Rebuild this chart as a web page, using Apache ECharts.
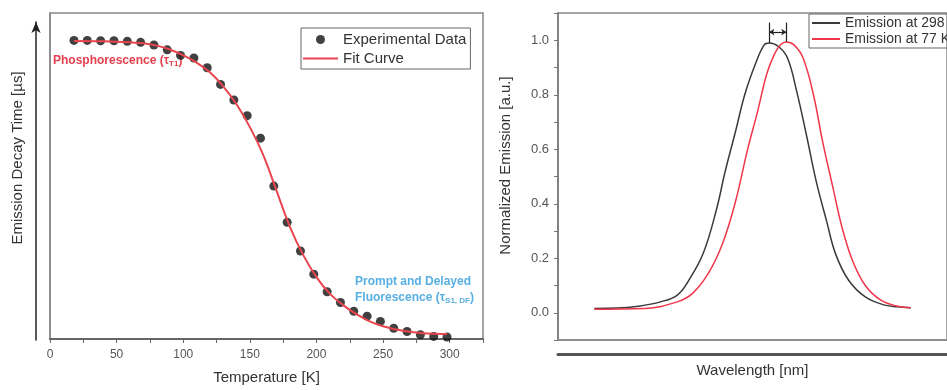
<!DOCTYPE html>
<html>
<head>
<meta charset="utf-8">
<script src="https://cdn.jsdelivr.net/npm/echarts@6/dist/echarts.min.js"></script>
<style>
html, body { margin: 0; padding: 0; background: #fff; }
#chart { width: 947px; height: 390px; }
</style>
</head>
<body>
<div id="chart"></div>
<script>
// left panel - decay time vs temperature (arbitrary y units, no scale shown)
const tempK = [18, 28, 38, 48, 58, 68, 78, 88, 98, 108, 118, 128, 138, 148, 158, 168, 178, 188, 198, 208, 218, 228, 238, 248, 258, 268, 278, 288, 298];
const decayExp = [91.6, 91.6, 91.5, 91.5, 91.3, 91.0, 90.2, 88.7, 87.0, 86.2, 83.2, 78.1, 73.3, 68.5, 61.6, 46.9, 35.8, 27.0, 19.9, 14.5, 11.2, 8.5, 7.0, 5.4, 3.3, 2.3, 1.3, 0.8, 0.6];
const fitT = [18, 40, 60, 70, 80, 90, 100, 110, 120, 130, 140, 150, 160, 170, 180, 190, 200, 210, 220, 230, 240, 250, 260, 270, 280, 290, 298];
const fitVal = [91.4, 91.3, 91.0, 90.7, 90.0, 88.8, 87.0, 84.8, 81.8, 77.5, 72.0, 65.0, 56.5, 45.5, 34.5, 25.8, 19.0, 13.9, 10.4, 7.6, 5.4, 3.9, 2.9, 2.2, 1.8, 1.6, 1.5];

// right panel - normalized emission spectra
const wl298 = [428, 445, 462, 479, 492, 501, 512, 522, 529, 537, 544, 552, 559, 563, 570, 577, 584, 592, 599, 607, 614, 624, 637, 652, 662, 672];
const em298 = [0.016, 0.017, 0.024, 0.040, 0.065, 0.12, 0.218, 0.375, 0.52, 0.667, 0.80, 0.91, 0.983, 0.99, 0.977, 0.935, 0.814, 0.643, 0.485, 0.339, 0.217, 0.12, 0.058, 0.028, 0.022, 0.018];
const wl77 = [428, 467, 492, 504, 516, 527, 537, 546, 554, 561, 567, 572, 576, 582, 589, 597, 604, 612, 619, 627, 637, 649, 662, 672];
const em77 = [0.013, 0.016, 0.040, 0.072, 0.145, 0.255, 0.41, 0.595, 0.74, 0.876, 0.95, 0.985, 0.994, 0.983, 0.935, 0.80, 0.63, 0.46, 0.314, 0.193, 0.10, 0.046, 0.024, 0.018];

const font = "'Liberation Sans', Arial, sans-serif";

function pairs(xs, ys) {
  return xs.map((x, i) => [x, ys[i]]);
}
function peak(xs, ys) {
  let k = 0;
  ys.forEach((v, i) => { if (v > ys[k]) k = i; });
  return [xs[k], ys[k]];
}

const p298 = peak(wl298, em298);
const p77 = peak(wl77, em77);

// line-only legend entries (hide the dot ECharts puts on line icons)
const noDot = { opacity: 0 };

const chart = echarts.init(document.getElementById("chart"));
chart.setOption({
  animation: false,
  textStyle: { fontFamily: font },
  grid: [
    { left: 50, right: 464, top: 13, bottom: 48, show: true, borderColor: "#888", borderWidth: 1.5 },
    { left: 36, width: 1, top: 22, bottom: 50 },
    { left: 558, right: -11, top: 13, bottom: 50, show: true, borderColor: "#888", borderWidth: 1.5 }
  ],
  xAxis: [
    {
      gridIndex: 0, type: "value", min: 0, max: 325, interval: 25,
      axisLine: { onZero: false, lineStyle: { color: "#666", width: 2 } },
      axisTick: { length: 4, lineStyle: { color: "#666" } },
      axisLabel: {
        color: "#555", fontSize: 12, margin: 10,
        formatter: v => (v % 50 === 0 && v <= 300 ? String(v) : "")
      },
      splitLine: { show: false },
      name: "Temperature [K]", nameLocation: "middle", nameGap: 31,
      nameTextStyle: { fontSize: 15, color: "#333" }
    },
    { gridIndex: 1, type: "value", show: false, min: 0, max: 1 },
    {
      gridIndex: 2, type: "value", min: 400, max: 700,
      axisLine: { onZero: false, lineStyle: { color: "#888", width: 1.5 } },
      axisTick: { show: false }, axisLabel: { show: false }, splitLine: { show: false }
    },
    {
      gridIndex: 2, type: "value", min: 400, max: 700, position: "bottom", offset: 14,
      axisLine: { onZero: false, lineStyle: { color: "#555", width: 3 } },
      axisTick: { show: false }, axisLabel: { show: false }, splitLine: { show: false },
      name: "Wavelength [nm]", nameLocation: "middle", nameGap: 9,
      nameTextStyle: { fontSize: 15, color: "#333" }
    }
  ],
  yAxis: [
    {
      gridIndex: 0, type: "value", min: 0, max: 100,
      axisLine: { show: true, lineStyle: { color: "#888", width: 1.5 } },
      axisTick: { show: false }, axisLabel: { show: false }, splitLine: { show: false }
    },
    {
      gridIndex: 1, type: "value", min: 0, max: 1,
      axisLine: { show: true, symbol: ["none", "arrow"], symbolSize: [7, 11], lineStyle: { color: "#222", width: 1.5 } },
      axisTick: { show: false }, axisLabel: { show: false }, splitLine: { show: false },
      name: "Emission Decay Time [\u00b5s]", nameLocation: "middle", nameGap: 11,
      nameTextStyle: { fontSize: 15, color: "#333", padding: [0, 0, 0, 46] }
    },
    {
      gridIndex: 2, type: "value", min: -0.1, max: 1.1, interval: 0.1,
      axisLine: { show: true, onZero: false, lineStyle: { color: "#777", width: 1.5 } },
      axisTick: { length: 4, lineStyle: { color: "#777" } },
      axisLabel: {
        color: "#555", fontSize: 13, margin: 9,
        formatter: v => {
          const k = Math.round(v * 10);
          return k >= 0 && k <= 10 && k % 2 === 0 ? (k / 10).toFixed(1) : "";
        }
      },
      splitLine: { show: false },
      name: "Normalized Emission [a.u.]", nameLocation: "middle", nameGap: 45,
      nameTextStyle: { fontSize: 15, color: "#333", padding: [0, 0, 0, 22] }
    }
  ],
  legend: [
    {
      data: [{ name: "Experimental Data" }, { name: "Fit Curve", itemStyle: noDot }],
      orient: "vertical", left: 301, top: 28,
      borderColor: "#666", borderWidth: 1, borderRadius: 0,
      padding: [4, 4, 3, 1], itemWidth: 35, itemHeight: 9, itemGap: 4,
      textStyle: { fontSize: 15, color: "#333" }
    },
    {
      data: [{ name: "Emission at 298 K", itemStyle: noDot }, { name: "Emission at 77 K", itemStyle: noDot }],
      orient: "vertical", left: 809, top: 14,
      borderColor: "#666", borderWidth: 1, borderRadius: 0,
      padding: [2, 3, 2, 2], itemWidth: 28, itemHeight: 8, itemGap: 2,
      textStyle: { fontSize: 14, color: "#333" }
    }
  ],
  series: [
    {
      name: "Experimental Data", type: "scatter", xAxisIndex: 0, yAxisIndex: 0,
      symbolSize: 9, itemStyle: { color: "#111" }, z: 2,
      data: pairs(tempK, decayExp)
    },
    {
      name: "Fit Curve", type: "line", xAxisIndex: 0, yAxisIndex: 0,
      smooth: 0.4, symbol: "none", z: 3,
      lineStyle: { color: "#e8454f", width: 2 }, itemStyle: { color: "#e8454f" },
      data: pairs(fitT, fitVal)
    },
    {
      name: "Emission at 298 K", type: "line", xAxisIndex: 2, yAxisIndex: 2,
      smooth: 0.4, symbol: "none",
      lineStyle: { color: "#3a3a3a", width: 1.5 }, itemStyle: { color: "#3a3a3a" },
      data: pairs(wl298, em298),
      markLine: {
        silent: true, symbol: "none", label: { show: false },
        lineStyle: { color: "#222", width: 1.2, type: "solid" },
        data: [
          [{ coord: [p298[0], p298[1]] }, { coord: [p298[0], 1.065] }],
          [{ coord: [p77[0], p77[1]] }, { coord: [p77[0], 1.065] }],
          [{ coord: [p298[0], 1.03], symbol: "arrow", symbolSize: 5 }, { coord: [p77[0], 1.03], symbol: "arrow", symbolSize: 5 }]
        ]
      }
    },
    {
      name: "Emission at 77 K", type: "line", xAxisIndex: 2, yAxisIndex: 2,
      smooth: 0.4, symbol: "none",
      lineStyle: { color: "#f0364a", width: 1.5 }, itemStyle: { color: "#f0364a" },
      data: pairs(wl77, em77)
    }
  ],
  graphic: [
    {
      type: "text", left: 53, top: 55,
      style: {
        text: "{m|Phosphorescence (\u03c4}{s|T1}{m|)}",
        rich: {
          m: { fontSize: 12, fontWeight: "bold", fill: "#e5404e", fontFamily: font },
          s: { fontSize: 8, fontWeight: "bold", fill: "#e5404e", fontFamily: font, padding: [5, 0, 0, 0] }
        }
      }
    },
    {
      type: "text", left: 355, top: 276,
      style: {
        text: "{m|Prompt and Delayed}\n{m|Fluorescence (\u03c4}{s|S1, DF}{m|)}",
        rich: {
          m: { fontSize: 12, fontWeight: "bold", fill: "#58afe3", fontFamily: font, lineHeight: 16 },
          s: { fontSize: 8, fontWeight: "bold", fill: "#58afe3", fontFamily: font, padding: [5, 0, 0, 0], lineHeight: 16 }
        }
      }
    }
  ]
});
</script>
</body>
</html>
